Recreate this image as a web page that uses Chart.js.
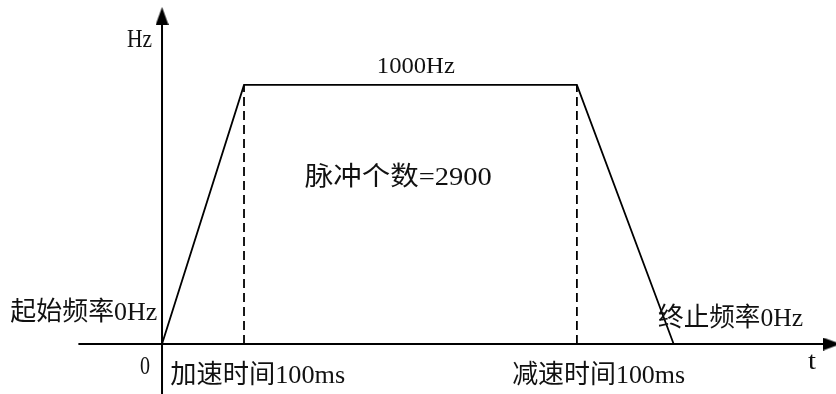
<!DOCTYPE html>
<html>
<head>
<meta charset="utf-8">
<script src="https://cdn.jsdelivr.net/npm/chart.js@4"></script>
<style>
  html, body { margin: 0; padding: 0; background: #fff; }
  #wrap { width: 836px; height: 394px; }
</style>
</head>
<body>
<div id="wrap"><canvas id="speedChart" width="836" height="394"></canvas></div>
<script>
// 梯形加减速曲线 (时间 ms / 频率 Hz)
const timeMs = [0, 100, 506, 624];
const freqHz = [0, 1000, 1000, 0];
const dashTimes = [100, 506];
const axisXRange = [-102, 810];
const axisYRange = [-193, 1232];

const labelTexts = ['Hz', '1000Hz', '脉冲个数=2900', '起始频率0Hz', '0', '加速时间100ms', '减速时间100ms', '终止频率0Hz', 't'];
// 标签位置 (数据坐标: 左边, 中线), 宽度, 字号
const labelPos = [
    [-42.7, 1178, 25, 26],
    [262, 1073, 78, 24],
    [174, 645, 187, 26],
    [-185, 124, 147, 26],
    [-27, -85, 10, 26],
    [10, -120, 175, 26],
    [427, -120, 173, 26],
    [605, 100, 145, 26],
    [788, -66, 8, 26]
];

function makeArrow() {
    const c = document.createElement('canvas');
    c.width = 13;
    c.height = 18;
    const g = c.getContext('2d');
    g.fillStyle = '#000';
    g.beginPath();
    g.moveTo(6.5, 0);
    g.lineTo(13, 18);
    g.lineTo(0, 18);
    g.closePath();
    g.fill();
    return c;
}
const arrowImg = makeArrow();

const labelPlugin = {
    id: 'labels',
    afterDatasetsDraw(chart) {
        const ctx = chart.ctx;
        const xs = chart.scales.x, ys = chart.scales.y;
        labelTexts.forEach((txt, i) => {
            const [lx, ly, w, size] = labelPos[i];
            ctx.save();
            ctx.font = size + 'px "Liberation Serif", "Noto Sans CJK SC", serif';
            ctx.fillStyle = '#111';
            ctx.textBaseline = 'middle';
            ctx.textAlign = 'left';
            const m = ctx.measureText(txt).width;
            ctx.translate(xs.getPixelForValue(lx), ys.getPixelForValue(ly));
            ctx.scale(w / m, 1);
            ctx.fillText(txt, 0, 1);
            ctx.restore();
        });
    }
};

const black = '#000';
const datasets = [
    {
        // x 轴
        data: axisXRange.map(v => ({ x: v, y: 0 })),
        borderColor: black, borderWidth: 2, pointRadius: 0
    },
    {
        // y 轴
        data: axisYRange.map(v => ({ x: 0, y: v })),
        borderColor: black, borderWidth: 2, pointRadius: 0
    },
    {
        // 箭头
        data: [{ x: 0, y: 1266 }, { x: 817, y: 0 }],
        showLine: false,
        pointStyle: arrowImg,
        rotation: [0, 90],
        pointRadius: 9
    },
    {
        data: timeMs.map((t, i) => ({ x: t, y: freqHz[i] })),
        borderColor: black, borderWidth: 1.8, pointRadius: 0
    }
];
dashTimes.forEach(t => {
    datasets.push({
        data: [{ x: t, y: 0 }, { x: t, y: 1000 }],
        borderColor: black, borderWidth: 1.8, borderDash: [9, 5], pointRadius: 0
    });
});

new Chart(document.getElementById('speedChart'), {
    type: 'line',
    data: { datasets: datasets },
    options: {
        responsive: false,
        animation: false,
        layout: { padding: 0, autoPadding: false },
        clip: false,
        scales: {
            x: { type: 'linear', min: -197.6, max: 822, display: false },
            y: { type: 'linear', min: -193, max: 1328, display: false }
        },
        plugins: {
            legend: { display: false },
            tooltip: { enabled: false }
        }
    },
    plugins: [labelPlugin]
});
</script>
</body>
</html>
